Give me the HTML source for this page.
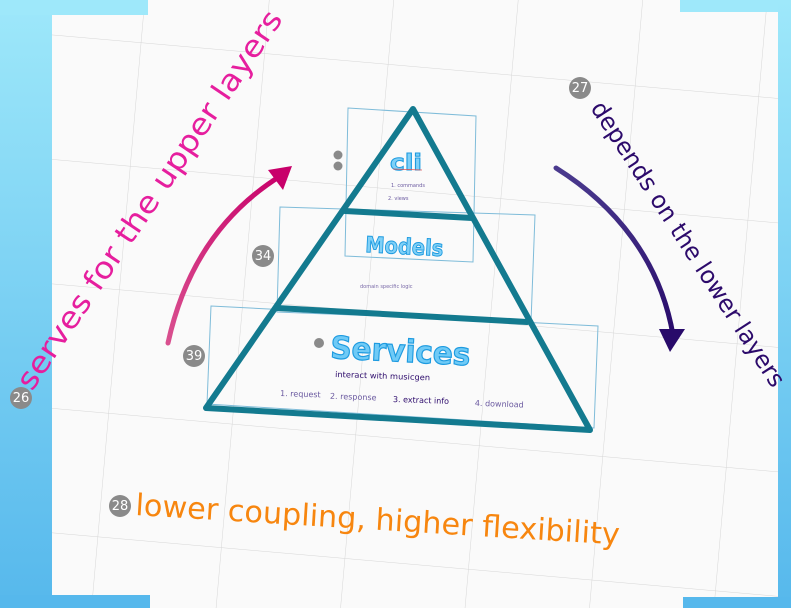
<!DOCTYPE html>
<html><head><meta charset="utf-8"><style>
html,body{margin:0;padding:0;width:791px;height:608px;overflow:hidden;background:#fafafa}
svg{display:block;overflow:hidden}
text{font-family:"DejaVu Sans","Liberation Sans",sans-serif}
</style></head><body>
<svg width="791" height="608" viewBox="0 0 791 608" xmlns="http://www.w3.org/2000/svg">
<defs>
<linearGradient id="fr" x1="0" y1="0" x2="0" y2="1"><stop offset="0" stop-color="#9ee8fa"/><stop offset="1" stop-color="#56b8ec"/></linearGradient>
<linearGradient id="pk" x1="0" y1="1" x2="1" y2="0"><stop offset="0" stop-color="#d9508f"/><stop offset="1" stop-color="#c8006a"/></linearGradient>
<linearGradient id="pu" x1="0" y1="0" x2="0" y2="1"><stop offset="0" stop-color="#4a3a8e"/><stop offset="1" stop-color="#280a6a"/></linearGradient>
<pattern id="grid" width="124" height="124" patternUnits="userSpaceOnUse" patternTransform="rotate(5) translate(20,30)">
<path d="M0 0H124M0 0V124" stroke="#d6d6d6" stroke-width="1" fill="none"/>
</pattern>
</defs>
<rect width="791" height="608" fill="#fafafa"/>
<rect x="0" y="0" width="791" height="608" fill="url(#grid)"/>
<!-- frame -->
<rect x="0" y="0" width="52" height="608" fill="url(#fr)"/>
<rect x="0" y="0" width="148" height="15" fill="#9ee8fa"/>
<rect x="680" y="0" width="111" height="12" fill="#9ee8fa"/>
<rect x="778" y="0" width="13" height="608" fill="url(#fr)"/>
<rect x="0" y="595" width="150" height="13" fill="#56b8ec"/>
<rect x="683" y="597" width="108" height="11" fill="#56b8ec"/>
<!-- boxes -->
<g fill="none" stroke="#7fbcd9" stroke-width="1">
<polygon points="348,108 476,116 473,262 345,256"/>
<polygon points="280,207 535,215 531,322 277,312"/>
<polygon points="211,306 598,326 594,428 207,404"/>
</g>
<!-- pyramid -->
<g stroke="#137a8f" stroke-width="6" fill="none" stroke-linejoin="round" stroke-linecap="round">
<polygon points="413,109 206,408 590,430"/>
<line x1="345" y1="211" x2="472" y2="218"/>
<line x1="277" y1="308" x2="527" y2="322"/>
</g>
<!-- labels inside -->
<text x="390" y="170" font-size="22" font-weight="bold" fill="#7fd0f7" stroke="#1e9be0" stroke-width="1" textLength="32" lengthAdjust="spacingAndGlyphs">cli</text>
<line x1="393" y1="169" x2="422" y2="170" stroke="#e05050" stroke-width="0.8"/>
<text x="391" y="187" font-size="5" fill="#6b5aa0">1. commands</text>
<text x="388" y="200" font-size="5" fill="#6b5aa0">2. views</text>
<text x="365" y="252" font-size="22" font-weight="bold" fill="#7fd0f7" stroke="#1e9be0" stroke-width="1" textLength="78" lengthAdjust="spacingAndGlyphs" transform="rotate(3 365 252)">Models</text>
<text x="360" y="288" font-size="5" fill="#7a6aa8">domain specific logic</text>
<text x="330" y="358" font-size="31" font-weight="bold" fill="#6fcaf6" stroke="#1e9be0" stroke-width="1.2" textLength="140" lengthAdjust="spacingAndGlyphs" transform="rotate(3 330 358)">Services</text>
<text x="335" y="377" font-size="8" fill="#2c0a6b" textLength="95" lengthAdjust="spacingAndGlyphs" transform="rotate(2 335 377)">interact with musicgen</text>
<g font-size="8" transform="rotate(2 280 396)">
<text x="280" y="396" fill="#6b5aa0">1. request</text>
<text x="330" y="397" fill="#6b5aa0">2. response</text>
<text x="393" y="398" fill="#2c0a6b">3. extract info</text>
<text x="475" y="399" fill="#6b5aa0">4. download</text>
</g>
<!-- arrows -->
<path d="M168,343 C185,265 225,210 282,175" stroke="url(#pk)" stroke-width="5" fill="none" stroke-linecap="round"/>
<polygon points="292,166 268,170 283,190" fill="#c8006a"/>
<path d="M556,168 C615,205 660,260 673,335" stroke="url(#pu)" stroke-width="5" fill="none" stroke-linecap="round"/>
<polygon points="670,352 659,329 685,329" fill="#280a6a"/>
<!-- rotated texts -->
<text x="32" y="392" font-size="30" fill="#e61e9e" textLength="450" lengthAdjust="spacingAndGlyphs" transform="rotate(-56 32 392)">serves for the upper layers</text>
<text x="590" y="108" font-size="24" fill="#2c0a6b" textLength="335" lengthAdjust="spacingAndGlyphs" transform="rotate(57 590 108)">depends on the lower layers</text>
<text x="135" y="515" font-size="30" fill="#f7860f" textLength="485" lengthAdjust="spacingAndGlyphs" transform="rotate(3.5 135 515)">lower coupling, higher flexibility</text>
<!-- badges -->
<g fill="#8a8a8a">
<circle cx="580" cy="88" r="11"/><circle cx="263" cy="256" r="11"/><circle cx="194" cy="356" r="11"/>
<circle cx="21" cy="398" r="11"/><circle cx="120" cy="506" r="11"/>
<circle cx="338" cy="155" r="4.5"/><circle cx="338" cy="166" r="4.5"/><circle cx="319" cy="343" r="5"/>
</g>
<g fill="#fff" font-size="13" text-anchor="middle" font-family="Liberation Sans">
<text x="580" y="92">27</text><text x="263" y="260">34</text><text x="194" y="360">39</text>
<text x="21" y="402">26</text><text x="120" y="510">28</text>
</g>
</svg>
</body></html>
